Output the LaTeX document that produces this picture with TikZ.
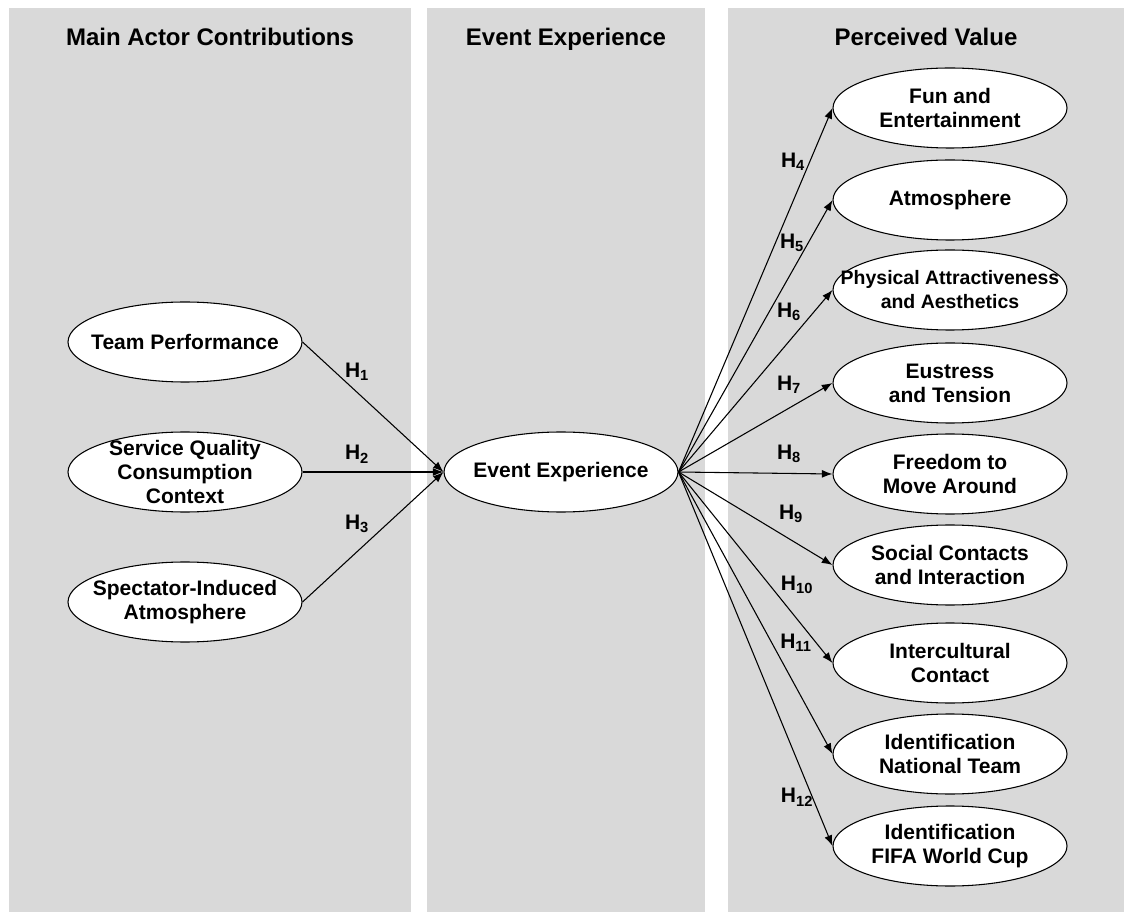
\documentclass[tikz,border=0pt]{standalone}
\usepackage{fontspec}
\setmainfont{Liberation Sans}
\usetikzlibrary{shapes.geometric,arrows.meta}
\definecolor{panelgray}{RGB}{217,217,217}

\begin{document}
\begin{tikzpicture}[x=0.75pt,y=-0.75pt]
   \useasboundingbox (0,0) rectangle (1124,912);
   \fill[panelgray] (9,8) rectangle (411,912);
   \fill[panelgray] (427,8) rectangle (705,912);
   \fill[panelgray] (728,8) rectangle (1124,912);
   \begin{scope}[every node/.style={anchor=base,font=\fontsize{18}{21}\selectfont\bfseries}]
    \node (t1) at (210,46) {Main Actor Contributions};
    \node (t2) at (566,46) {Event Experience};
    \node (t3) at (926,46) {Perceived Value};
   \end{scope}
   \begin{scope}[every node/.style={ellipse,draw=black,fill=white,line width=0.8pt,minimum width=175.5pt,minimum height=60pt,inner xsep=-30pt,inner ysep=-10pt,align=center,font=\fontsize{15.75}{18}\selectfont\bfseries}]
    \node (tp) at (185,342) {Team Performance};
    \node (sq) at (185,472) {Service Quality\\Consumption\\Context};
    \node (sa) at (185,602) {Spectator-Induced\\Atmosphere};
    \node (ee) at (561,472) {Event Experience};
    \node (fe) at (950,108) {Fun and\\Entertainment};
    \node (at) at (950,200) {Atmosphere};
    \node[font=\fontsize{14.6}{18}\selectfont\bfseries] (pa) at (950,290) {Physical Attractiveness\\and Aesthetics};
    \node (et) at (950,383) {Eustress\\and Tension};
    \node (fm) at (950,474) {Freedom to\\Move Around};
    \node (sc) at (950,565) {Social Contacts\\and Interaction};
    \node (ic) at (950,663) {Intercultural\\Contact};
    \node (nt) at (950,754) {Identification\\National Team};
    \node (wc) at (950,846) {Identification\\FIFA World Cup};
   \end{scope}
   \begin{scope}[every node/.style={font=\fontsize{15.75}{18}\selectfont\bfseries}]
    \node (h1) at (357,372) {H\textsubscript{1}};
    \node (h2) at (357,454) {H\textsubscript{2}};
    \node (h3) at (357,524) {H\textsubscript{3}};
    \node (h4) at (793,162) {H\textsubscript{4}};
    \node (h5) at (792,243) {H\textsubscript{5}};
    \node (h6) at (789,312) {H\textsubscript{6}};
    \node (h7) at (789,385) {H\textsubscript{7}};
    \node (h8) at (789,454) {H\textsubscript{8}};
    \node (h9) at (791,514) {H\textsubscript{9}};
    \node (h10) at (797,585) {H\textsubscript{10}};
    \node (h11) at (796,643) {H\textsubscript{11}};
    \node (h12) at (797,797) {H\textsubscript{12}};
   \end{scope}
   \begin{scope}[every edge/.style={draw=black,line width=0.8pt,-{Latex[length=8pt,width=6pt]}}]
    \draw (tp.east) edge (ee.west);
    \draw (sq.east) edge (ee.west);
    \draw (sa.east) edge (ee.west);
    \draw (ee.east) edge (fe.west);
    \draw (ee.east) edge (at.west);
    \draw (ee.east) edge (pa.west);
    \draw (ee.east) edge (et.west);
    \draw (ee.east) edge (fm.west);
    \draw (ee.east) edge (sc.west);
    \draw (ee.east) edge (ic.west);
    \draw (ee.east) edge (nt.west);
    \draw (ee.east) edge (wc.west);
   \end{scope}
\end{tikzpicture}
\end{document}
